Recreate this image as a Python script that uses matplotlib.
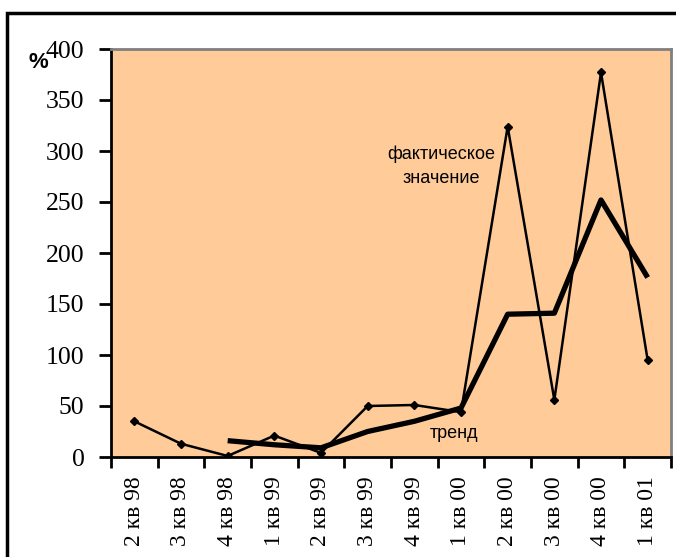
import matplotlib.pyplot as plt
from matplotlib.patches import Rectangle

quarters = ["2 кв 98", "3 кв 98", "4 кв 98", "1 кв 99", "2 кв 99", "3 кв 99",
            "4 кв 99", "1 кв 00", "2 кв 00", "3 кв 00", "4 кв 00", "1 кв 01"]
actual = [35, 13, 1, 21, 4, 50, 51, 44, 324, 56, 377, 95]
# trend starts from the third quarter
trend_quarters = quarters[2:]
trend = [16, 12, 9, 25, 35, 48, 140, 141, 252, 176]

fig = plt.figure(figsize=(6.76, 5.57), dpi=100)
ax = fig.add_axes([111 / 676, 100 / 557, 560 / 676, 408 / 557])
ax.set_facecolor("#FFCC99")

x = list(range(len(quarters)))
tx = [quarters.index(q) for q in trend_quarters]

ax.plot(x, actual, color="black", lw=1.8, marker="D", ms=4.5, zorder=3)
ax.plot(tx, trend, color="black", lw=3.8, solid_capstyle="butt", zorder=2)

ax.set_xlim(-0.5, len(quarters) - 0.5)
ax.set_ylim(0, 400)
ax.set_yticks(range(0, 401, 50))
ax.set_xticks([i - 0.5 for i in range(len(quarters) + 1)], minor=False)
ax.set_xticklabels([])
ax.set_xticks(x, minor=True)
ax.set_xticklabels(quarters, minor=True, rotation=90, fontfamily="Liberation Serif", fontsize=17)
ax.tick_params(axis="x", which="minor", length=0, pad=14)
ax.tick_params(axis="x", which="major", length=8, width=2, direction="out")
ax.tick_params(axis="y", length=9, width=2, direction="out", pad=10)
for lab in ax.get_yticklabels():
    lab.set_fontfamily("Liberation Serif")
    lab.set_fontsize(18.5)

for side in ("left", "bottom"):
    ax.spines[side].set_linewidth(2)
    ax.spines[side].set_color("black")
for side in ("top", "right"):
    ax.spines[side].set_linewidth(2)
    ax.spines[side].set_color("#808080")

ax.text(6.57, 285, "фактическое\nзначение", ha="center", va="center",
        fontfamily="Liberation Sans", fontsize=13, linespacing=1.6)
ax.text(6.85, 23, "тренд", ha="center", va="center",
        fontfamily="Liberation Sans", fontsize=13)
fig.text(38 / 676, 1 - 63 / 557, "%", ha="center", va="center",
         fontfamily="Liberation Sans", fontweight="bold", fontsize=16)

# frame round the whole chart
fig.patches.append(Rectangle((7 / 676, -0.1), 1.2, 1 - 13 / 557 + 0.1,
                             transform=fig.transFigure, fill=False,
                             edgecolor="black", lw=2.5))

fig.savefig("out.png", dpi=100)
